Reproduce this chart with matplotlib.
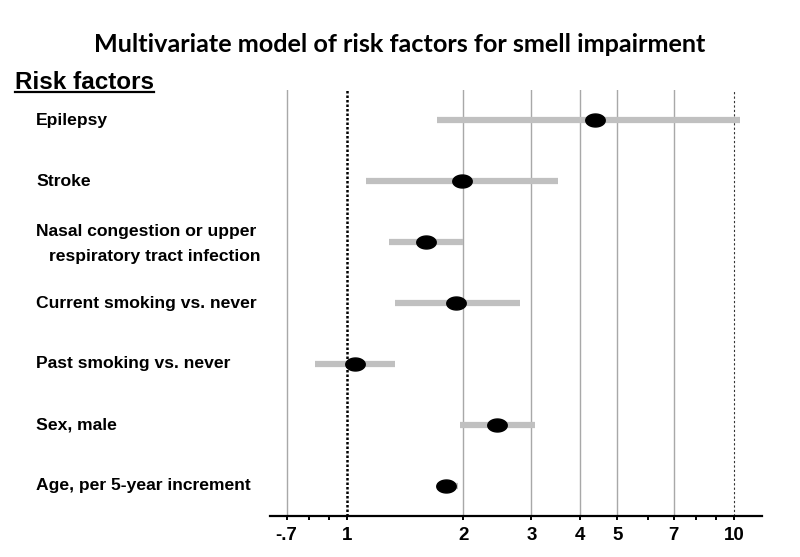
import matplotlib

matplotlib.use("Agg")
import matplotlib.pyplot as plt
import numpy as np
from matplotlib.ticker import FixedLocator, NullFormatter

LABELS = [
    "Epilepsy",
    "Stroke",
    "Nasal congestion or upper\nrespiratory tract infection",
    "Current smoking vs. never",
    "Past smoking vs. never",
    "Sex, male",
    "Age, per 5-year increment",
]
ODDS = [4.38, 1.98, 1.60, 1.92, 1.05, 2.45, 1.81]
CI_LOW = [1.71, 1.12, 1.29, 1.33, 0.83, 1.96, 1.71]
CI_HIGH = [10.4, 3.52, 2.00, 2.80, 1.33, 3.06, 1.94]

MAJOR_TICKS = [0.7, 1, 2, 3, 4, 5, 7, 10]
TICK_LABELS = ["-.7", "1", "2", "3", "4", "5", "7", "10"]
MINOR_TICKS = [0.8, 0.9, 6, 8, 9]
GRAY_LINES = [0.7, 2, 3, 4, 5, 7]

LABEL_FONT = "Liberation Sans"
LABEL_SIZE = 12.6


def ellipse_marker(aspect: float = 1.5) -> np.ndarray:
    t = np.linspace(0, 2 * np.pi, 60)
    return np.column_stack([aspect * np.cos(t), np.sin(t)])


def main() -> None:
    fig = plt.figure(figsize=(8.0, 5.57), dpi=100)
    ax = fig.add_axes([0.3375, 0.0736, 0.6146, 0.7648])
    ax.set_xscale("log")
    ax.set_xlim(0.634, 11.8)
    ax.set_ylim(6.5, -0.5)

    for v in GRAY_LINES:
        ax.axvline(v, color="#a8a8a8", lw=1.0, zorder=1)
    ax.axvline(1, color="black", lw=1.8, ls=(0, (1, 0.8)), zorder=1)
    ax.axvline(10, color="#333333", lw=0.8, ls=(0, (2, 2)), zorder=1)

    y = np.arange(len(LABELS))
    ax.hlines(y, CI_LOW, CI_HIGH, color="#c0c0c0", lw=4.5, zorder=2)
    ax.plot(ODDS, y, ls="none", marker=ellipse_marker(), markersize=14,
            color="black", zorder=3)

    for side in ("left", "right", "top"):
        ax.spines[side].set_visible(False)
    ax.spines["bottom"].set_linewidth(1.6)
    ax.set_yticks([])

    ax.xaxis.set_major_locator(FixedLocator(MAJOR_TICKS))
    ax.xaxis.set_minor_locator(FixedLocator(MINOR_TICKS))
    ax.xaxis.set_minor_formatter(NullFormatter())
    ax.set_xticklabels(TICK_LABELS, fontfamily=LABEL_FONT, fontweight="bold",
                       fontsize=13.5)
    ax.tick_params(axis="x", which="both", direction="out", length=3,
                   width=1.4, pad=5)

    label_x = 36 / 800
    for i, label in enumerate(LABELS):
        lines = label.split("\n")
        if len(lines) == 1:
            ax.annotate(label, xy=(label_x, i), xycoords=(fig.transFigure, ax.transData),
                        ha="left", va="center", fontsize=LABEL_SIZE, fontweight="bold",
                        fontfamily=LABEL_FONT)
        else:
            ax.annotate(lines[0], xy=(label_x, i), xycoords=(fig.transFigure, ax.transData),
                        xytext=(0, 11), textcoords="offset pixels",
                        ha="left", va="center", fontsize=LABEL_SIZE, fontweight="bold",
                        fontfamily=LABEL_FONT)
            ax.annotate(lines[1], xy=(label_x, i), xycoords=(fig.transFigure, ax.transData),
                        xytext=(13, -14), textcoords="offset pixels",
                        ha="left", va="center", fontsize=LABEL_SIZE, fontweight="bold",
                        fontfamily=LABEL_FONT)

    head = fig.text(15 / 800, 1 - 82 / 557, "Risk factors", ha="left", va="center",
                    fontsize=17.5, fontweight="bold", fontfamily=LABEL_FONT)
    fig.canvas.draw()
    bb = head.get_window_extent().transformed(fig.transFigure.inverted())
    fig.add_artist(plt.Line2D([bb.x0, bb.x1], [bb.y0 + 0.002, bb.y0 + 0.002],
                              transform=fig.transFigure, color="black", lw=1.6))

    fig.text(0.5, 1 - 44 / 557, "Multivariate model of risk factors for smell impairment",
             ha="center", va="center", fontsize=18.2, fontweight="bold", fontfamily="Lato")

    fig.savefig("out.png", dpi=100)


if __name__ == "__main__":
    main()
